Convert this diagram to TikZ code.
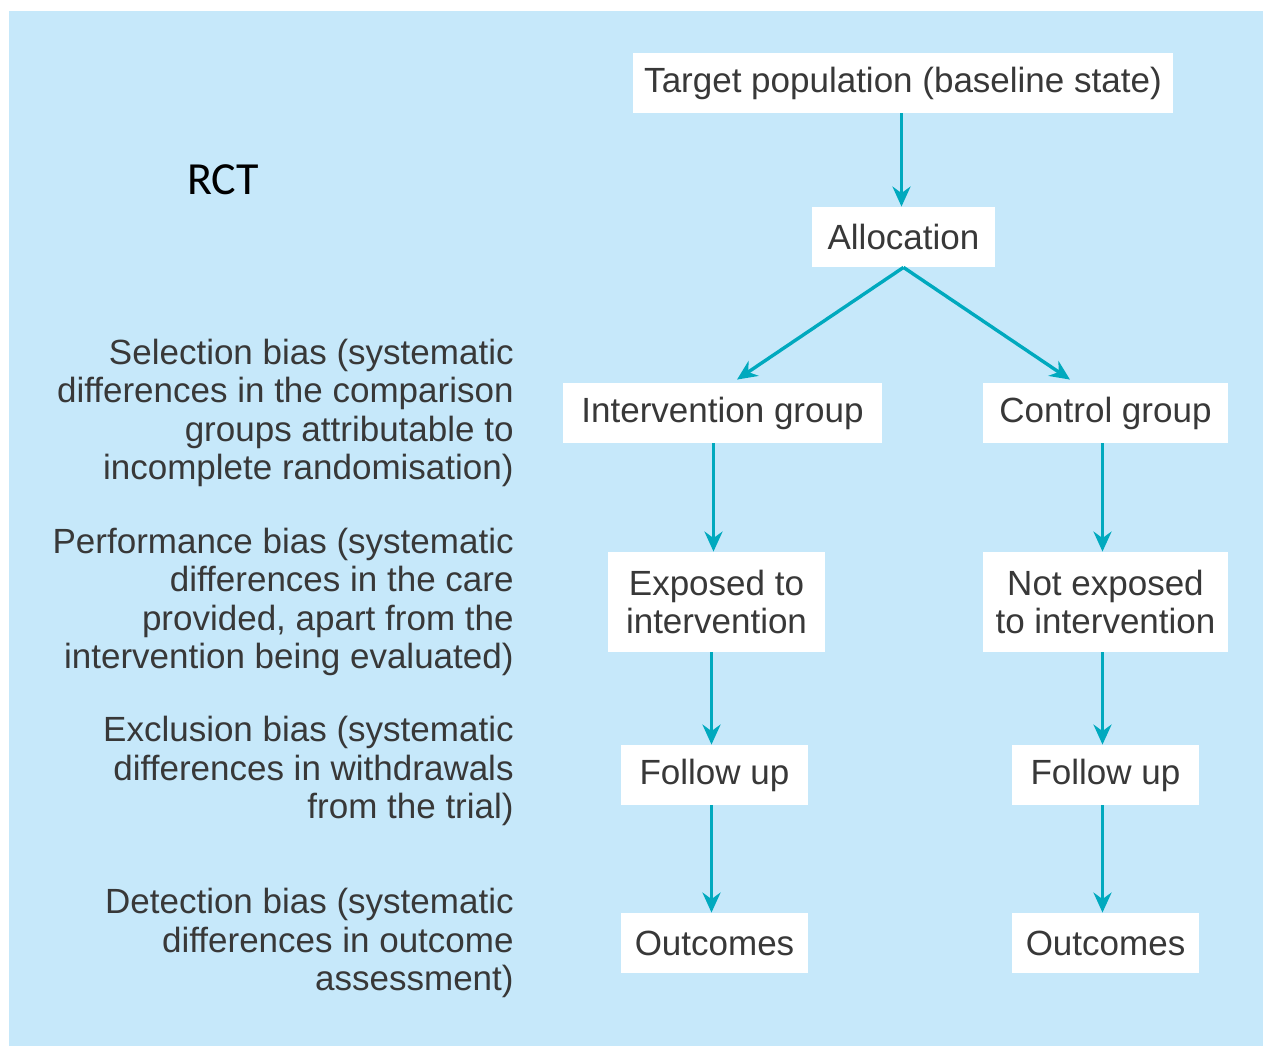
\documentclass[tikz,border=0pt]{standalone}
\usepackage{fontspec}
\setmainfont{Liberation Sans}
\newfontfamily\rctfont{Carlito}
\usetikzlibrary{arrows.meta}

\definecolor{bgblue}{HTML}{C6E8FA}
\definecolor{arrowteal}{HTML}{00A9BE}
\definecolor{textgray}{HTML}{383838}

\begin{document}
\begin{tikzpicture}[x=0.5pt, y=-0.5pt,
    every node/.style={font=\fontsize{17.5}{19.3}\selectfont, text=textgray},
    box/.style={fill=white, inner sep=0pt, minimum height=30pt, align=center},
    biastext/.style={anchor=east, align=right, inner sep=0pt},
    arr/.style={draw=arrowteal, line width=1.7pt, -{Stealth[length=10pt, width=9pt]}}]
  % background
  \useasboundingbox (0,0) rectangle (1265,1048);
  \fill[bgblue] (9,11) rectangle (1263,1046);

  \node[text=black, font=\rctfont\fontsize{23}{26}\selectfont] (rct) at (223,180) {RCT};

  % flow boxes
  \node[box, minimum width=270pt] (target) at (903,83) {Target population (baseline state)};
  \node[box, minimum width=91.5pt] (alloc) at (903.5,237) {Allocation};
  \node[box, minimum width=159.5pt] (intv) at (722.5,413) {Intervention group};
  \node[box, minimum width=122.5pt] (ctrl) at (1105.5,413) {Control group};
  \node[box, minimum width=108.5pt, minimum height=50pt] (expL) at (716.5,602) {Exposed to\\intervention};
  \node[box, minimum width=122.5pt, minimum height=50pt] (expR) at (1105.5,602) {Not exposed\\to intervention};
  \node[box, minimum width=93.5pt] (fupL) at (714.5,775) {Follow up};
  \node[box, minimum width=93.5pt] (fupR) at (1105.5,775) {Follow up};
  \node[box, minimum width=93.5pt] (outL) at (714.5,943) {Outcomes};
  \node[box, minimum width=93.5pt] (outR) at (1105.5,943) {Outcomes};

  % bias labels
  \node[biastext] (selbias) at (514,413) {Selection bias (systematic\\differences in the comparison\\groups attributable to\\incomplete randomisation)};
  \node[biastext] (perfbias) at (514,602) {Performance bias (systematic\\differences in the care\\provided, apart from the\\intervention being evaluated)};
  \node[biastext] (exclbias) at (514,771) {Exclusion bias (systematic\\differences in withdrawals\\from the trial)};
  \node[biastext] (detbias) at (514,943) {Detection bias (systematic\\differences in outcome\\assessment)};

  % arrows
  \draw[arr] ([xshift=-1pt]alloc.north |- target.south) -- ([xshift=-1pt]alloc.north);
  \draw[arr] (alloc.south) -- ([xshift=7.25pt, yshift=1.5pt]intv.north);
  \draw[arr] (alloc.south) -- ([xshift=-17.75pt, yshift=1.5pt]ctrl.north);
  \foreach \a/\b in {intv/expL, expL/fupL, fupL/outL, ctrl/expR, expR/fupR, fupR/outR}
  {
    \draw[arr] ([xshift=-1.5pt]\b.north |- \a.south) -- ([xshift=-1.5pt]\b.north);
  }
\end{tikzpicture}
\end{document}
